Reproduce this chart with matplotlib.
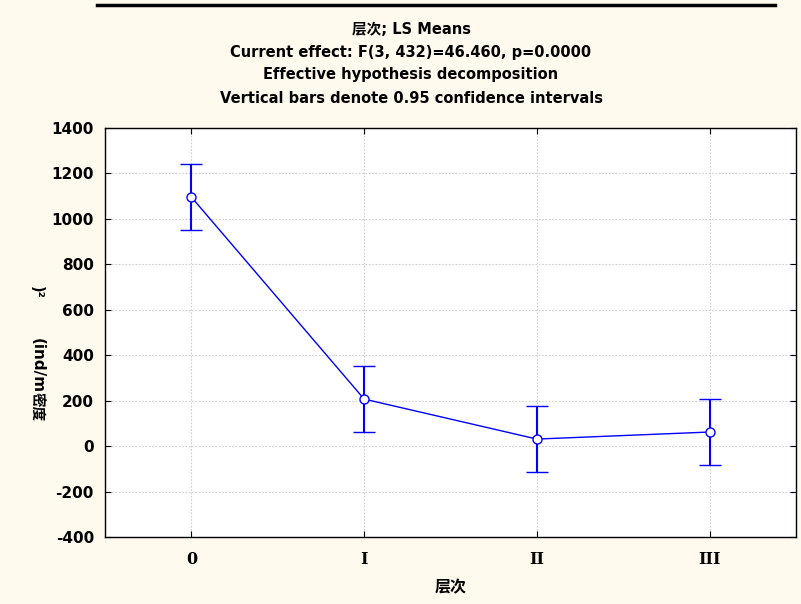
import matplotlib
matplotlib.use("Agg")
import matplotlib.pyplot as plt
from matplotlib.lines import Line2D

categories = ["0", "I", "II", "III"]
means = [1096, 207, 31, 62]
ci_half = [145, 145, 145, 145]
yticks = [-400, -200, 0, 200, 400, 600, 800, 1000, 1200, 1400]

title_lines = ["层次; LS Means",
               "Current effect: F(3, 432)=46.460, p=0.0000",
               "Effective hypothesis decomposition",
               "Vertical bars denote 0.95 confidence intervals"]

plt.rcParams["axes.unicode_minus"] = False
fam = ["DejaVu Sans", "Noto Sans CJK SC"]
bg = "#FFF9EE"

W, H = 801, 604
fig = plt.figure(figsize=(W / 100, H / 100), dpi=100, facecolor=bg)
ax = fig.add_axes([105 / W, 1 - 537 / H, (796 - 105) / W, (537 - 128) / H])
ax.set_facecolor("white")

x = list(range(len(categories)))
ax.errorbar(x, means, yerr=ci_half, color="#0000FF", lw=1.0, elinewidth=1.5,
            capsize=8, capthick=1.5, marker="o", ms=6.5, mfc="white",
            mec="#0000FF", mew=1.0, zorder=3)

ax.set_xlim(-0.5, 3.5)
ax.set_ylim(-400, 1400)
ax.set_yticks(yticks)
ax.set_yticklabels([str(v) for v in yticks], family="DejaVu Sans", fontweight="bold", fontsize=11)
ax.set_xticks(x)
ax.set_xticklabels(categories, family="DejaVu Serif", fontweight="bold", fontsize=11.5)
ax.tick_params(direction="in", top=True, right=True, length=4, width=0.8, pad=8)
ax.tick_params(axis="x", pad=10)
ax.grid(True, color="#CFCFCF", linestyle=(0, (1.5, 1.5)), linewidth=0.8)
ax.set_axisbelow(True)
for s in ax.spines.values():
    s.set_linewidth(1.0)
    s.set_color("black")

ax.set_xlabel("层次", family=fam, fontweight="bold", fontsize=11.5, labelpad=9)

# y label (rendered as in the reference)
fig.text(37 / W, 1 - 366 / H, "(ind/m", rotation=270, family=fam, fontweight="bold",
         fontsize=11, ha="center", va="center")
fig.text(36 / W, 1 - 407 / H, "密度", rotation=270, family=fam, fontweight="bold",
         fontsize=10.5, ha="center", va="center")
fig.text(36 / W, 1 - 292 / H, ")²", rotation=270, family=fam, fontweight="bold",
         fontsize=10.5, ha="center", va="center")

# title lines
y0 = 29
for i, t in enumerate(title_lines):
    fig.text(411 / W, 1 - (y0 + 23 * i) / H, t, family=fam, fontweight="bold",
             fontsize=10.5, ha="center", va="center")

# top rule
fig.add_artist(Line2D([97 / W, 775 / W], [1 - 5 / H, 1 - 5 / H], color="black", lw=2.5,
                      transform=fig.transFigure))

fig.savefig("out.png", dpi=100, facecolor=bg)
